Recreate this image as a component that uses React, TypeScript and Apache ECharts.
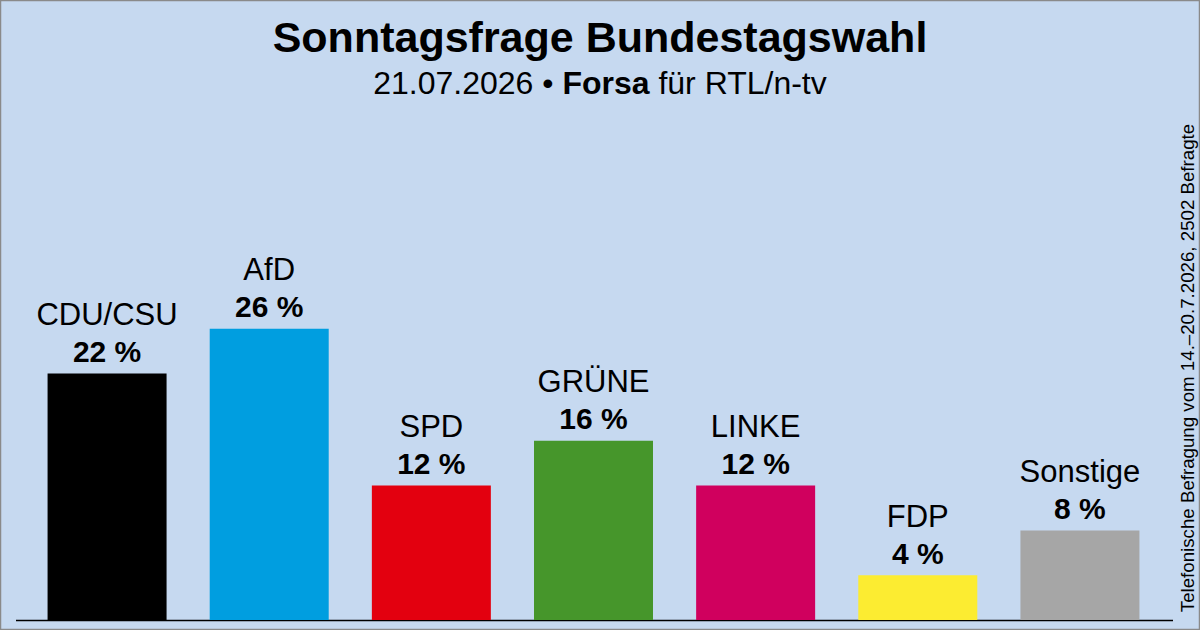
import React, { useEffect, useRef } from "react";
import * as echarts from "echarts";

const parties = ["CDU/CSU", "AfD", "SPD", "GRÜNE", "LINKE", "FDP", "Sonstige"];
const values = [22, 26, 12, 16, 12, 4, 8];
const colors = ["#000000", "#009ee0", "#e3000f", "#46962b", "#d0005e", "#fcec31", "#a6a6a6"];
const titleText = "Sonntagsfrage Bundestagswahl";
const subDate = "21.07.2026 • ";
const subInstitute = "Forsa";
const subClient = " für RTL/n-tv";
const sideNote = "Telefonische Befragung vom 14.–20.7.2026, 2502 Befragte";

const FONT = "Liberation Sans, Arial, sans-serif";

export default function App() {
  const ref = useRef<HTMLDivElement>(null);
  useEffect(() => {
    document.body.style.margin = "0";
    const chart = echarts.init(ref.current!, undefined, { renderer: "svg" });
    chart.setOption({
      animation: false,
      backgroundColor: "#c6d9f0",
      textStyle: { fontFamily: FONT },
      grid: { left: 26, width: 1135, top: 284, height: 336 },
      xAxis: {
        type: "category",
        data: parties,
        axisLine: { show: false },
        axisTick: { show: false },
        axisLabel: { show: false },
      },
      yAxis: {
        type: "value",
        min: 0,
        max: 30,
        show: false,
        splitLine: { show: false },
      },
      series: [
        {
          type: "bar",
          barWidth: 119,
          data: values.map((v, i) => ({ value: v, itemStyle: { color: colors[i] } })),
          label: {
            show: true,
            position: "top",
            distance: 4,
            formatter: (p: any) => `{n|${p.name}}\n{v|${p.value} %}`,
            rich: {
              n: { fontFamily: FONT, fontSize: 31, color: "#000", lineHeight: 38 },
              v: { fontFamily: FONT, fontSize: 30, fontWeight: "bold", color: "#000", lineHeight: 36 },
            },
          },
        },
      ],
      graphic: [
        {
          type: "rect",
          shape: { x: 0.5, y: 0.5, width: 1199, height: 629 },
          style: { fill: "none", stroke: "#8a8a8a", lineWidth: 1.5 },
          silent: true,
        },
        {
          type: "line",
          shape: { x1: 16, y1: 620.5, x2: 1173, y2: 620.5 },
          style: { stroke: "#000", lineWidth: 1.5 },
        },
        {
          type: "text",
          x: 600,
          y: 37,
          style: {
            text: titleText,
            fontFamily: FONT,
            fontSize: 43,
            fontWeight: "bold",
            fill: "#000",
            align: "center",
            verticalAlign: "middle",
          },
        },
        {
          type: "text",
          x: 600,
          y: 83,
          style: {
            text: `{a|${subDate}}{b|${subInstitute}}{a|${subClient}}`,
            fontFamily: FONT,
            align: "center",
            verticalAlign: "middle",
            rich: {
              a: { fontFamily: FONT, fontSize: 32, fill: "#000" },
              b: { fontFamily: FONT, fontSize: 32, fontWeight: "bold", fill: "#000" },
            },
          },
        },
        {
          type: "text",
          x: 1187,
          y: 368,
          rotation: Math.PI / 2,
          style: {
            text: sideNote,
            fontFamily: FONT,
            fontSize: 18.7,
            fill: "#000",
            align: "center",
            verticalAlign: "middle",
          },
        },
      ],
    });
    return () => chart.dispose();
  }, []);
  return <div ref={ref} style={{ position: "absolute", left: 0, top: 0, width: 1200, height: 630 }} />;
}
